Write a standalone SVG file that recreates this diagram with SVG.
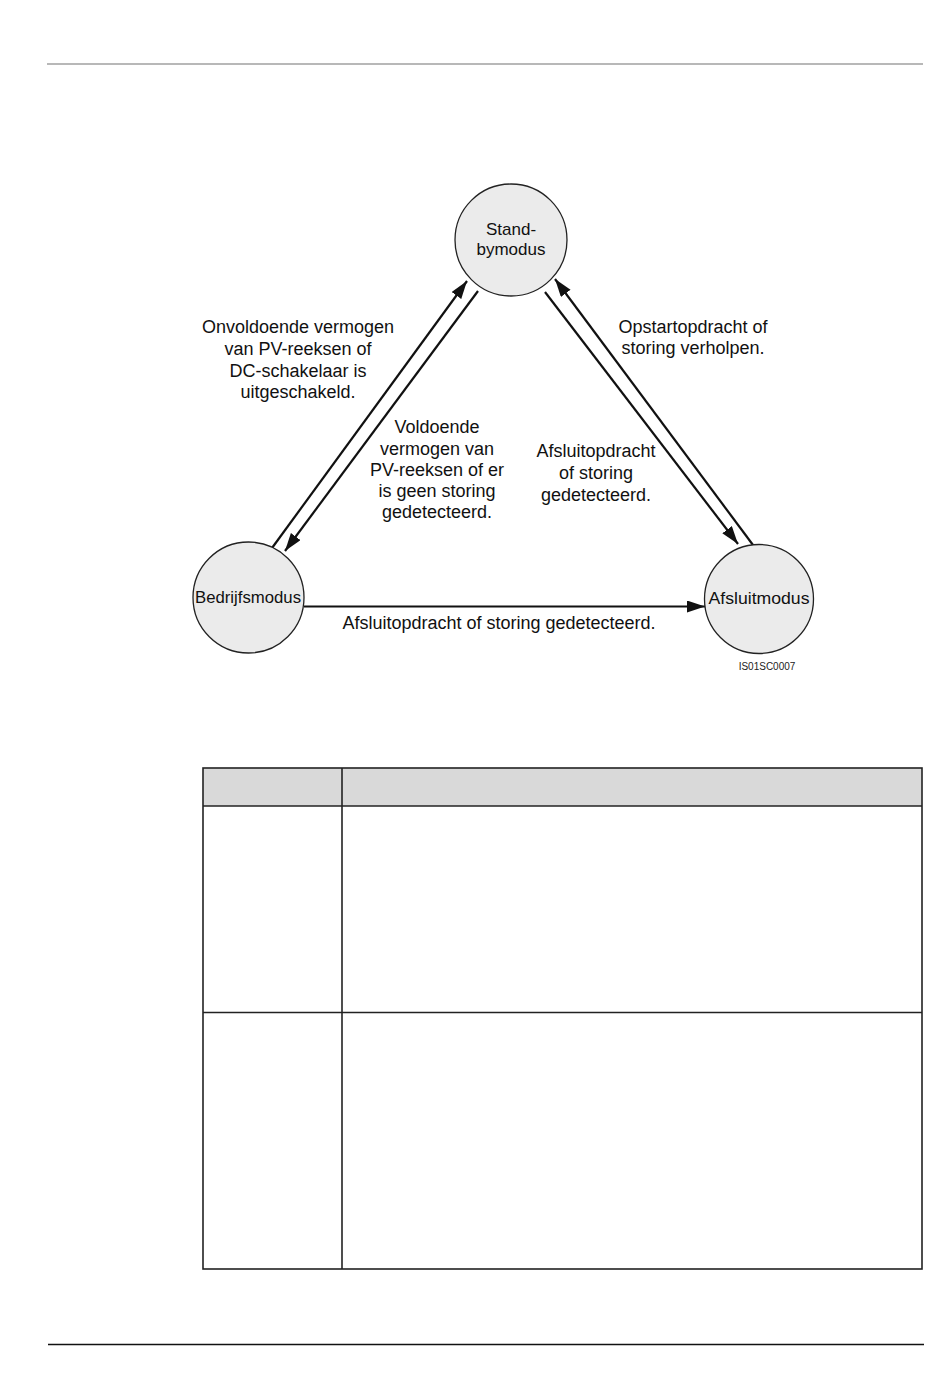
<svg xmlns="http://www.w3.org/2000/svg" width="950" height="1397" viewBox="0 0 950 1397">
<style>
.t{font-family:"Liberation Sans",Arial,sans-serif;font-size:18px;fill:#111;text-anchor:middle}
.n{font-family:"Liberation Sans",Arial,sans-serif;font-size:17px;fill:#111;text-anchor:middle}
.node{fill:#ebebeb;stroke:#222;stroke-width:1.3}
.c{stroke:#111;stroke-width:2.2;fill:none}
.cell{fill:none;stroke:#222;stroke-width:1.6}
</style>
<defs>
<marker id="ah" markerUnits="userSpaceOnUse" markerWidth="20" markerHeight="14" refX="18" refY="6" orient="auto">
<path d="M0,0 L18,6 L0,12 z" fill="#111"/>
</marker>
</defs>
<rect width="950" height="1397" fill="#fff"/>
<line x1="47" y1="64" x2="923" y2="64" stroke="#a0a0a0" stroke-width="1.6"/>
<line x1="48" y1="1344.5" x2="924" y2="1344.5" stroke="#111" stroke-width="1.3"/>

<g id="connectors">
<line class="c" x1="272" y1="548" x2="467" y2="281" marker-end="url(#ah)"/>
<line class="c" x1="478" y1="291" x2="285" y2="551" marker-end="url(#ah)"/>
<line class="c" x1="545" y1="292" x2="738" y2="544" marker-end="url(#ah)"/>
<line class="c" x1="753" y1="545" x2="555" y2="279" marker-end="url(#ah)"/>
<line class="c" x1="304" y1="606.5" x2="705" y2="606.5" marker-end="url(#ah)"/>
<text class="t" x="298" y="333">Onvoldoende vermogen</text>
<text class="t" x="298" y="355">van PV-reeksen of</text>
<text class="t" x="298" y="377">DC-schakelaar is</text>
<text class="t" x="298" y="398">uitgeschakeld.</text>
<text class="t" x="437" y="433">Voldoende</text>
<text class="t" x="437" y="455">vermogen van</text>
<text class="t" x="437" y="476">PV-reeksen of er</text>
<text class="t" x="437" y="497">is geen storing</text>
<text class="t" x="437" y="518">gedetecteerd.</text>
<text class="t" x="693" y="333">Opstartopdracht of</text>
<text class="t" x="693" y="354">storing verholpen.</text>
<text class="t" x="596" y="457">Afsluitopdracht</text>
<text class="t" x="596" y="479">of storing</text>
<text class="t" x="596" y="501">gedetecteerd.</text>
<text class="t" x="499" y="629">Afsluitopdracht of storing gedetecteerd.</text>
</g>

<g id="standby">
<circle class="node" cx="511" cy="240" r="56"/>
<text class="n" x="511" y="235">Stand-</text>
<text class="n" x="511" y="255">bymodus</text>
</g>
<g id="bedrijfsmodus">
<circle class="node" cx="248.5" cy="597.5" r="55.5"/>
<text class="n" x="248" y="603" textLength="106" lengthAdjust="spacingAndGlyphs">Bedrijfsmodus</text>
</g>
<g id="afsluitmodus">
<circle class="node" cx="759" cy="599" r="54.5"/>
<text class="n" x="759" y="604" textLength="101" lengthAdjust="spacingAndGlyphs">Afsluitmodus</text>
</g>
<text x="767" y="670" font-family="'Liberation Sans',Arial,sans-serif" font-size="10" fill="#222" text-anchor="middle">IS01SC0007</text>

<g id="table">
<rect x="203" y="768" width="719" height="38" fill="#d9d9d9"/>
<rect class="cell" x="203" y="768" width="719" height="501"/>
<line class="cell" x1="203" y1="806" x2="922" y2="806"/>
<line class="cell" x1="203" y1="1012.5" x2="922" y2="1012.5"/>
<line class="cell" x1="342" y1="768" x2="342" y2="1269"/>
</g>
</svg>
